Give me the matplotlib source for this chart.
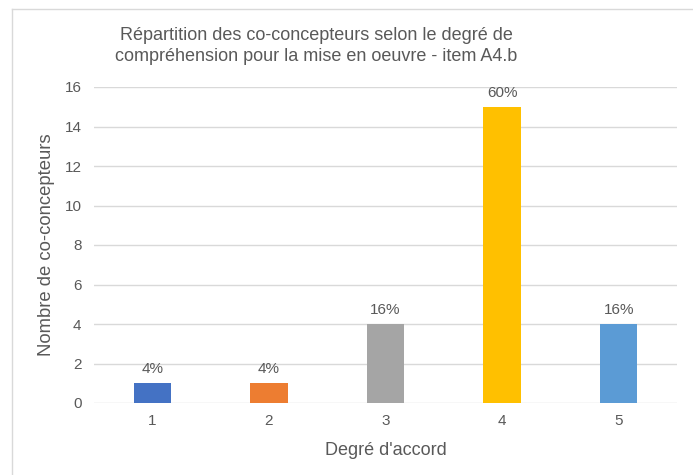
import matplotlib
matplotlib.use("Agg")
import matplotlib.pyplot as plt
from matplotlib.lines import Line2D

categories = ["1", "2", "3", "4", "5"]
counts = [1, 1, 4, 15, 4]
pct_labels = ["4%", "4%", "16%", "60%", "16%"]
colors = ["#4472C4", "#ED7D31", "#A5A5A5", "#FFC000", "#5B9BD5"]
yticks = [0, 2, 4, 6, 8, 10, 12, 14, 16]

title = "Répartition des co-concepteurs selon le degré de\ncompréhension pour la mise en oeuvre - item A4.b"
xlabel = "Degré d'accord"
ylabel = "Nombre de co-concepteurs"

plt.rcParams['font.family'] = ['Liberation Sans', 'DejaVu Sans']
txt = "#595959"

W, H = 693, 475
fig = plt.figure(figsize=(W / 100, H / 100), dpi=100)

# outer chart frame (partially outside the image)
fx0 = 12 / W
fy1 = 1 - 9 / H
fig.add_artist(Line2D([fx0, fx0], [0, fy1], transform=fig.transFigure, color="#D9D9D9", lw=1))
fig.add_artist(Line2D([fx0, 1], [fy1, fy1], transform=fig.transFigure, color="#D9D9D9", lw=1))

left, right = 94 / W, 677 / W
bottom, top = 1 - 403 / H, 1 - 87 / H
ax = fig.add_axes([left, bottom, right - left, top - bottom])

x = list(range(len(categories)))
bars = ax.bar(x, counts, width=0.32, color=colors, zorder=3)
for xi, c, lab in zip(x, counts, pct_labels):
    ax.annotate(lab, (xi, c), xytext=(0, 5), textcoords="offset points",
                ha="center", va="bottom", fontsize=11, color=txt)

ax.set_xlim(-0.5, len(categories) - 0.5)
ax.set_ylim(0, 16)
ax.set_yticks(yticks)
ax.set_yticklabels([str(v) for v in yticks])
ax.set_xticks(x)
ax.set_xticklabels(categories)
ax.grid(axis="y", color="#D9D9D9", lw=1, zorder=0)
for s in ["top", "right", "left", "bottom"]:
    ax.spines[s].set_visible(False)
ax.tick_params(axis="both", length=0, labelsize=11, labelcolor=txt)
ax.tick_params(axis="y", pad=9)
ax.tick_params(axis="x", pad=8)
ax.set_xlabel(xlabel, fontsize=13, color=txt, labelpad=10)
ax.set_ylabel(ylabel, fontsize=13.3, color=txt, labelpad=7)

fig.text(316 / W, 1 - 46 / H, title, ha="center", va="center", fontsize=13,
         color=txt, linespacing=1.25)

fig.savefig("out.png", dpi=100, facecolor="white")
